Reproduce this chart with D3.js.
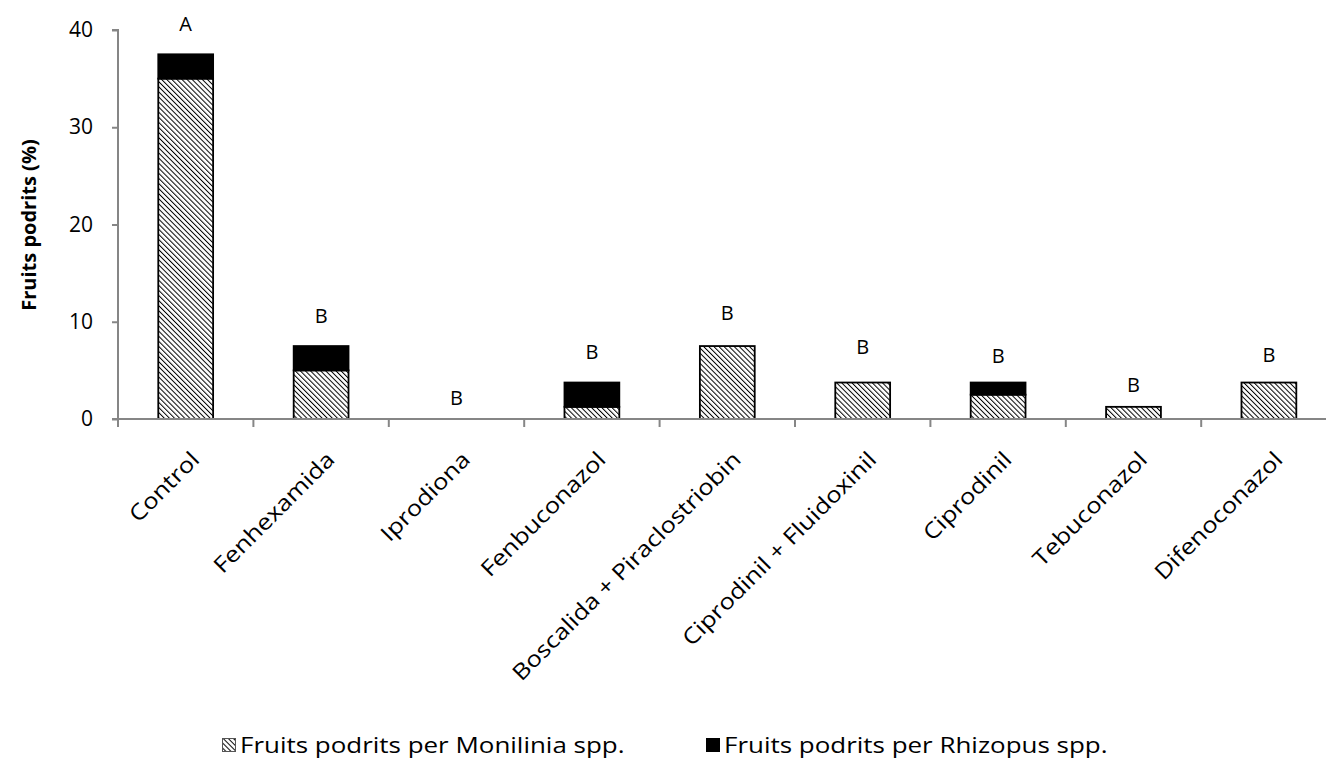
<!DOCTYPE html>
<html>
<head>
<meta charset="utf-8">
<script src="https://cdn.jsdelivr.net/npm/d3@7"></script>
<style>
  body { margin: 0; background: #fff; }
  text { font-family: "Open Sans", sans-serif; fill: #000; }
</style>
</head>
<body>
<div id="vis"></div>
<script>
var categories = ["Control", "Fenhexamida", "Iprodiona", "Fenbuconazol",
  "Boscalida + Piraclostriobin", "Ciprodinil + Fluidoxinil", "Ciprodinil",
  "Tebuconazol", "Difenoconazol"];
var monilinia = [35, 5, 0, 1.25, 7.5, 3.75, 2.5, 1.25, 3.75];
var rhizopus  = [2.5, 2.5, 0, 2.5, 0, 0, 1.25, 0, 0];
var letters   = ["A", "B", "B", "B", "B", "B", "B", "B", "B"];
var letterY   = [39.9, 9.9, 1.45, 6.2, 10.2, 6.7, 5.8, 2.8, 5.9];
var yTicks    = [0, 10, 20, 30, 40];
var seriesNames = ["Fruits podrits per Monilinia spp.", "Fruits podrits per Rhizopus spp."];

var w = 1326, h = 762;
var left = 118, band = 135.4;

var svg = d3.select("#vis").append("svg")
  .attr("width", w)
  .attr("height", h);

// hatch for Monilinia (downward diagonal)
var defs = svg.append("defs");
defs.append("pattern")
  .attr("id", "hatch")
  .attr("patternUnits", "userSpaceOnUse")
  .attr("width", 3.6).attr("height", 3.6)
  .attr("patternTransform", "rotate(-45)")
  .call(function(p) {
    p.append("rect").attr("width", 3.6).attr("height", 3.6).attr("fill", "#fff");
    p.append("line").attr("x1", 0).attr("y1", 0).attr("x2", 0).attr("y2", 3.6)
      .attr("stroke", "#000").attr("stroke-width", 2.0);
  });

var x = d3.scaleBand()
  .domain(categories)
  .range([left, left + band * categories.length]);

var y = d3.scaleLinear()
  .domain([0, 40])
  .range([419, 30]);

var barW = x.bandwidth() * 0.405;

var data = categories.map(function(c, i) {
  return { name: c, mon: monilinia[i], rhi: rhizopus[i], letter: letters[i], ly: letterY[i] };
});

// y axis
var yAxis = svg.append("g")
  .attr("transform", "translate(" + left + ",0)")
  .call(d3.axisLeft(y).tickValues(yTicks).tickSize(6).tickPadding(19).tickFormat(d3.format("d")));
yAxis.select(".domain").attr("stroke", "#868686").attr("stroke-width", 2).attr("d", "M-6," + y(40) + "H0V" + y(0));
yAxis.selectAll(".tick line").attr("stroke", "#868686").attr("stroke-width", 2);
yAxis.selectAll(".tick text").style("font-size", "21px").attr("fill", "#000");

// bars
var bars = svg.append("g").selectAll("g")
  .data(data)
  .join("g");

bars.filter(function(d) { return d.mon > 0; }).append("rect")
  .attr("x", function(d) { return x(d.name) + (x.bandwidth() - barW) / 2; })
  .attr("width", barW)
  .attr("y", function(d) { return y(d.mon); })
  .attr("height", function(d) { return y(0) - y(d.mon); })
  .attr("fill", "url(#hatch)")
  .attr("stroke", "#000").attr("stroke-width", 1.8);

bars.filter(function(d) { return d.rhi > 0; }).append("rect")
  .attr("x", function(d) { return x(d.name) + (x.bandwidth() - barW) / 2; })
  .attr("width", barW)
  .attr("y", function(d) { return y(d.mon + d.rhi); })
  .attr("height", function(d) { return y(d.mon) - y(d.mon + d.rhi); })
  .attr("fill", "#000")
  .attr("stroke", "#000").attr("stroke-width", 1.8);

// letters
svg.append("g").selectAll("text")
  .data(data)
  .join("text")
  .attr("x", function(d) { return x(d.name) + x.bandwidth() / 2; })
  .attr("y", function(d) { return y(d.ly); })
  .attr("text-anchor", "middle")
  .style("font-size", "20px")
  .text(function(d) { return d.letter; });

// x axis (category boundary ticks)
var xg = svg.append("g");
xg.append("line")
  .attr("x1", left - 6).attr("x2", x.range()[1])
  .attr("y1", y(0)).attr("y2", y(0))
  .attr("stroke", "#868686").attr("stroke-width", 2);
xg.selectAll(".xt")
  .data(categories.map(function(c) { return x(c); }).concat([x.range()[1]]))
  .join("line")
  .attr("class", "xt")
  .attr("x1", function(d) { return d; }).attr("x2", function(d) { return d; })
  .attr("y1", y(0)).attr("y2", y(0) + 8)
  .attr("stroke", "#868686").attr("stroke-width", 2);

xg.selectAll(".xl")
  .data(categories)
  .join("text")
  .attr("class", "xl")
  .attr("transform", function(d) { return "translate(" + (x(d) + x.bandwidth() / 2 + 4) + "," + 450 + ") rotate(-45) scale(1.16,1)"; })
  .attr("text-anchor", "end")
  .attr("dy", "0.71em")
  .style("font-size", "22px")
  .text(function(d) { return d; });

// y title
svg.append("text")
  .attr("transform", "translate(36,225) rotate(-90)")
  .attr("text-anchor", "middle")
  .style("font-size", "20px")
  .style("font-weight", "bold")
  .text("Fruits podrits (%)");

// legend
var legendX = [222, 706];
var legend = svg.append("g").selectAll("g")
  .data(seriesNames)
  .join("g")
  .attr("transform", function(d, i) { return "translate(" + legendX[i] + ",738)"; });
legend.append("rect")
  .attr("x", 0.5).attr("y", 0.5)
  .attr("width", 13).attr("height", 13)
  .attr("fill", function(d, i) { return i === 0 ? "url(#hatch)" : "#000"; })
  .attr("stroke", function(d, i) { return i === 0 ? "#555" : "#000"; })
  .attr("stroke-width", 1);
legend.append("text")
  .attr("transform", "translate(18,15) scale(1.18,1)")
  .style("font-size", "22px")
  .text(function(d) { return d; });
</script>
</body>
</html>
